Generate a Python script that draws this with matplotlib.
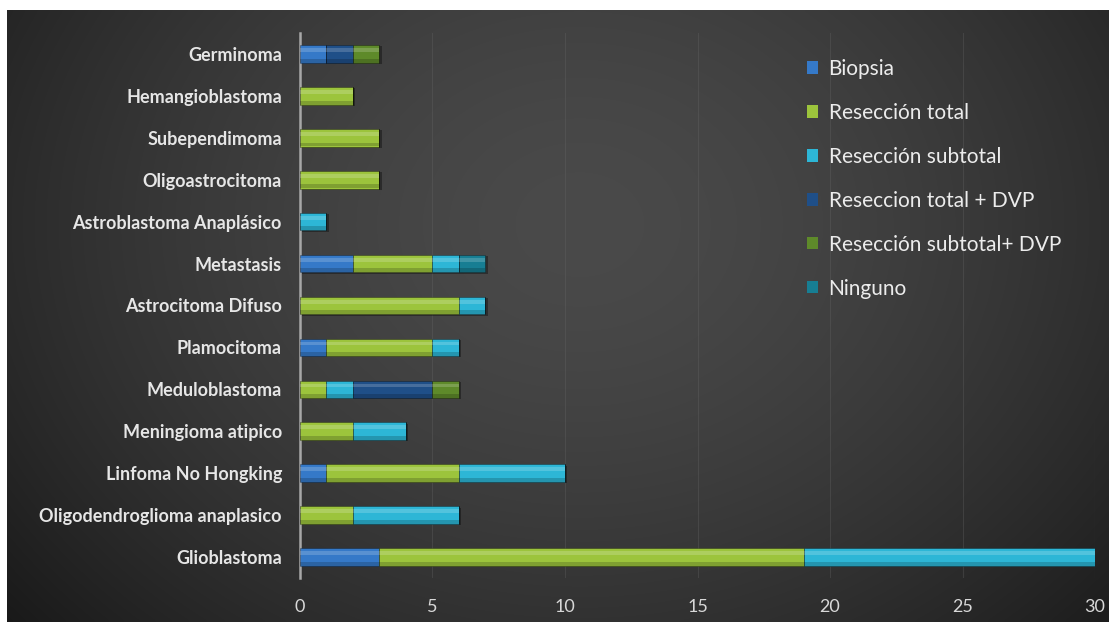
import numpy as np
import matplotlib
matplotlib.use("Agg")
import matplotlib.pyplot as plt
from matplotlib.patches import Rectangle

plt.rcParams['font.family'] = ['Lato', 'DejaVu Sans']

# Tumour types, bottom to top
categories = [
    "Glioblastoma",
    "Oligodendroglioma anaplasico",
    "Linfoma No Hongking",
    "Meningioma atipico",
    "Meduloblastoma",
    "Plamocitoma",
    "Astrocitoma Difuso",
    "Metastasis",
    "Astroblastoma Anaplásico",
    "Oligoastrocitoma",
    "Subependimoma",
    "Hemangioblastoma",
    "Germinoma",
]

# Number of patients per procedure
biopsia            = [3, 0, 1, 0, 0, 1, 0, 2, 0, 0, 0, 0, 1]
reseccion_total    = [16, 2, 5, 2, 1, 4, 6, 3, 0, 3, 3, 2, 0]
reseccion_subtotal = [11, 4, 4, 2, 1, 1, 1, 1, 1, 0, 0, 0, 0]
total_dvp          = [0, 0, 0, 0, 3, 0, 0, 0, 0, 0, 0, 0, 1]
subtotal_dvp       = [0, 0, 0, 0, 1, 0, 0, 0, 0, 0, 0, 0, 1]
ninguno            = [0, 0, 0, 0, 0, 0, 0, 1, 0, 0, 0, 0, 0]

series_names = ["Biopsia", "Resección total", "Resección subtotal",
                "Reseccion total + DVP", "Resección subtotal+ DVP", "Ninguno"]
series_values = [biopsia, reseccion_total, reseccion_subtotal,
                 total_dvp, subtotal_dvp, ninguno]
series_colors = ["#3579c8", "#9cc43c", "#2db6d6", "#1f4f88", "#5e8a2a", "#177e93"]

xticks = [0, 5, 10, 15, 20, 25, 30]

W, H = 1109, 622
fig = plt.figure(figsize=(W / 100, H / 100), dpi=100)
fig.patch.set_facecolor("white")

# Dark gradient backdrop
bg = fig.add_axes([7 / W, 0, 1 - 7 / W, 1 - 10 / H])
bg.set_axis_off()
yy, xx = np.mgrid[0:1:200j, 0:1:400j]
cx, cy = 0.52, 0.35
r = np.sqrt(((xx - cx) / 0.75) ** 2 + ((yy - cy) / 1.1) ** 2)
val = 0.29 - 0.22 * np.clip(r, 0, 1.2) ** 1.6
val = np.clip(val, 0.07, 0.30)
img = np.dstack([val, val, val])
bg.imshow(img, aspect="auto", extent=[0, 1, 0, 1], origin="upper", interpolation="bicubic")
bg.set_xlim(0, 1)
bg.set_ylim(0, 1)

left, right = 300 / W, 1095 / W
bottom, top = 1 - 578 / H, 1 - 33 / H
ax = fig.add_axes([left, bottom, right - left, top - bottom])
ax.patch.set_alpha(0)

y = np.arange(len(categories))
bar_h = 0.42
base = np.zeros(len(categories))
for name, vals, col in zip(series_names, series_values, series_colors):
    vals = np.asarray(vals, dtype=float)
    # shadow
    ax.barh(y - 0.03, vals, left=base + 0.08, height=bar_h, color="black",
            alpha=0.35, zorder=2, linewidth=0)
    ax.barh(y, vals, left=base, height=bar_h, color=col, zorder=3,
            edgecolor="#00000055", linewidth=0.6, label=name)
    # glossy highlight on the upper part of each segment
    ax.barh(y + bar_h * 0.22, vals, left=base, height=bar_h * 0.22,
            color="white", alpha=0.18, zorder=4, linewidth=0)
    # darker lower edge
    ax.barh(y - bar_h * 0.38, vals, left=base, height=bar_h * 0.22,
            color="black", alpha=0.18, zorder=4, linewidth=0)
    base += vals

ax.set_xlim(0, 30)
ax.set_ylim(-0.5, len(categories) - 0.5)
ax.set_yticks(y)
ax.set_yticklabels(categories, fontsize=13, fontweight="bold", color="#e6e6e6")
ax.set_xticks(xticks)
ax.set_xticklabels([str(t) for t in xticks], fontsize=13, color="#d8d8d8")
ax.tick_params(axis="both", length=0)
ax.tick_params(axis="y", pad=13)
ax.tick_params(axis="x", pad=15)
for s in ["top", "right", "bottom"]:
    ax.spines[s].set_visible(False)
ax.spines["left"].set_color("#a8a8a8")
ax.spines["left"].set_linewidth(1.8)
ax.grid(axis="x", color="#6a6a6a", linewidth=0.8, alpha=0.3, zorder=0)
ax.set_axisbelow(True)

handles = [Rectangle((0, 0), 1, 1, facecolor=c, edgecolor="none") for c in series_colors]
leg = fig.legend(handles, series_names, loc="upper left",
                 bbox_to_anchor=(788 / W, 1 - 40 / H), frameon=False,
                 fontsize=15, labelcolor="#ececec", handlelength=0.55,
                 handleheight=0.55, handletextpad=0.5, labelspacing=1.15)

fig.savefig("out.png", dpi=100, facecolor=fig.get_facecolor())
